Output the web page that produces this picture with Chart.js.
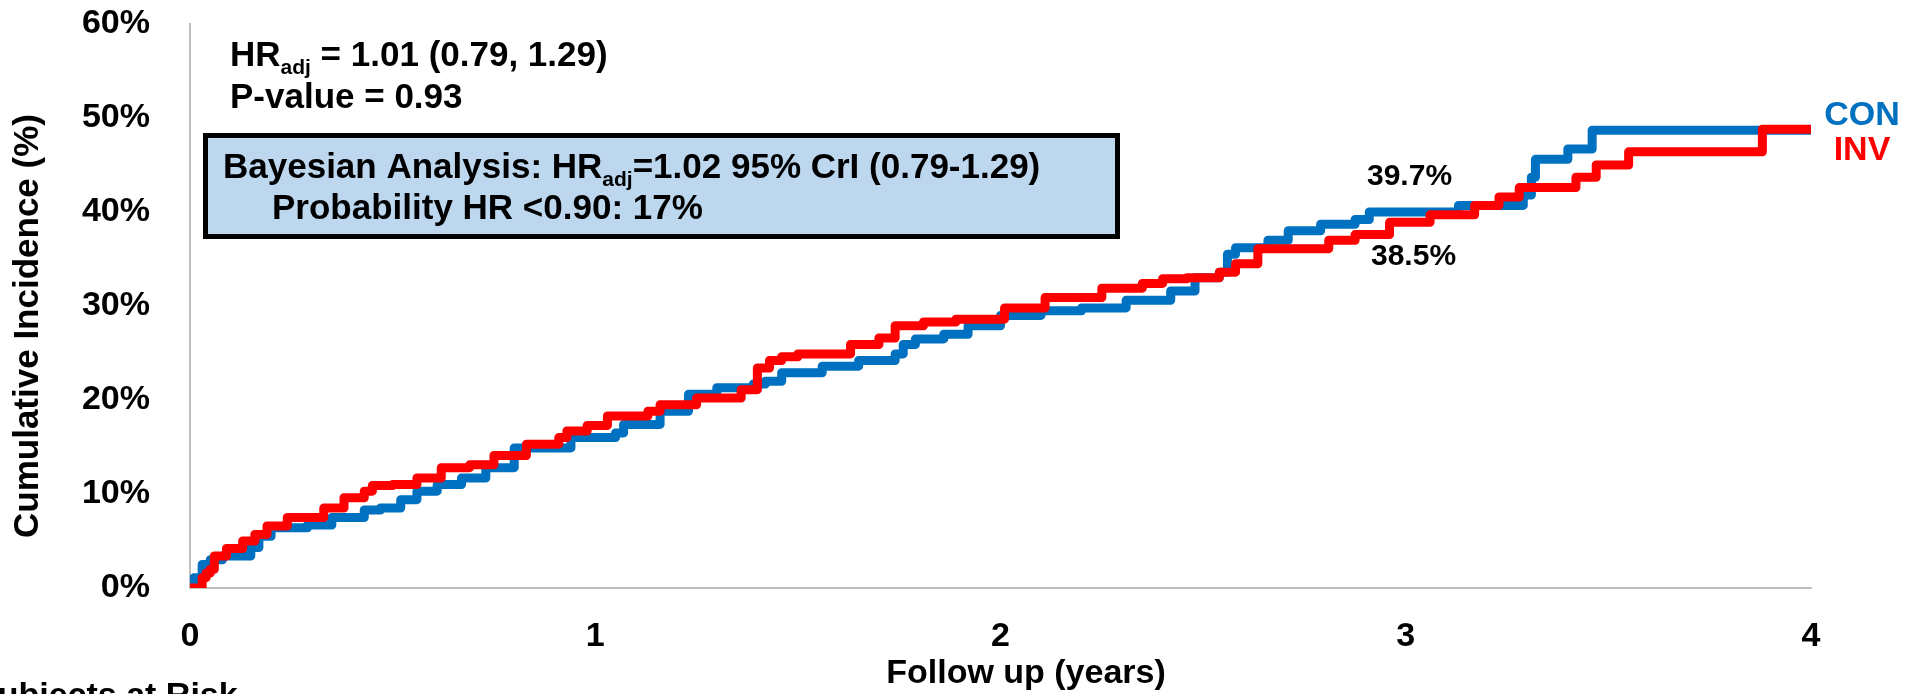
<!DOCTYPE html>
<html>
<head>
<meta charset="utf-8">
<script src="https://cdn.jsdelivr.net/npm/chart.js@4"></script>
<style>
  html, body { margin: 0; padding: 0; background: #fff; overflow: hidden; }
  #wrap { width: 1919px; height: 694px; position: relative; }
</style>
</head>
<body>
<div id="wrap"><canvas id="kmChart"></canvas></div>
<script>
// CON (blue) step curve: time in years, cumulative incidence in %
const conTimes  = [0, 0.01, 0.03, 0.05, 0.08, 0.15, 0.17, 0.20, 0.29, 0.35, 0.43, 0.47, 0.52, 0.56, 0.61, 0.67, 0.73, 0.80, 0.94, 1.05, 1.07, 1.16, 1.23, 1.30, 1.39, 1.42, 1.46, 1.56, 1.65, 1.74, 1.76, 1.79, 1.86, 1.92, 2.00, 2.10, 2.20, 2.31, 2.42, 2.48, 2.54, 2.56, 2.58, 2.66, 2.71, 2.79, 2.875, 2.91, 3.13, 3.29, 3.31, 3.32, 3.40, 3.46, 4.00];
const conValues = [0, 1.1, 2.5, 3.0, 3.4, 4.3, 5.5, 6.4, 6.7, 7.5, 8.3, 8.5, 9.4, 10.3, 11.0, 11.7, 12.8, 14.9, 16.0, 16.5, 17.4, 18.8, 20.6, 21.3, 21.7, 22.0, 22.9, 23.6, 24.2, 24.9, 25.9, 26.5, 27.0, 27.9, 29.0, 29.5, 29.8, 30.6, 31.6, 33.0, 33.6, 35.5, 36.2, 37.0, 38.0, 38.7, 39.2, 40.0, 40.7, 41.8, 43.7, 45.6, 46.7, 48.7, 48.7];

// INV (red) step curve
const invTimes  = [0, 0.03, 0.04, 0.05, 0.06, 0.09, 0.13, 0.16, 0.19, 0.24, 0.33, 0.38, 0.43, 0.45, 0.50, 0.56, 0.62, 0.69, 0.75, 0.83, 0.91, 0.93, 0.98, 1.03, 1.13, 1.16, 1.25, 1.36, 1.40, 1.43, 1.46, 1.50, 1.63, 1.70, 1.74, 1.81, 1.89, 2.01, 2.11, 2.25, 2.35, 2.40, 2.46, 2.54, 2.58, 2.635, 2.81, 2.875, 2.96, 3.06, 3.17, 3.23, 3.28, 3.42, 3.47, 3.55, 3.88, 4.00];
const invValues = [0, 1.1, 1.6, 2.0, 3.4, 4.2, 5.0, 5.7, 6.6, 7.5, 8.5, 9.6, 10.3, 10.9, 11.0, 11.7, 12.8, 13.1, 14.1, 15.3, 16.0, 16.7, 17.3, 18.3, 18.8, 19.5, 20.2, 21.1, 23.4, 24.2, 24.6, 24.9, 25.9, 26.6, 27.9, 28.3, 28.6, 29.8, 30.9, 31.9, 32.4, 32.9, 33.0, 33.6, 34.5, 36.1, 37.0, 37.6, 38.9, 39.7, 40.7, 41.6, 42.6, 43.7, 45.0, 46.4, 48.8, 48.8];

const seriesNames = ['CON', 'INV'];
const yearTicks = [0, 1, 2, 3, 4];
const percentTicks = [0, 10, 20, 30, 40, 50, 60];

const FONT = '"Liberation Sans", Arial, sans-serif';
const BLUE = '#0070C0';
const RED = '#FF0000';

function toPoints(xs, ys) {
    return xs.map((x, i) => ({ x: x, y: ys[i] }));
}

// draw a line of text made of runs (for the "adj" subscript)
function drawRuns(ctx, x, y, runs) {
    runs.forEach(r => {
        ctx.font = 'bold ' + r.size + 'px ' + FONT;
        ctx.fillText(r.text, x, y + (r.dy || 0));
        x += ctx.measureText(r.text).width;
    });
}

const annotations = {
    id: 'annotations',
    afterDraw(chart) {
        const ctx = chart.ctx;
        ctx.save();
        ctx.fillStyle = '#000';
        ctx.textBaseline = 'alphabetic';
        ctx.textAlign = 'left';

        drawRuns(ctx, 230, 66, [
            { text: 'HR', size: 35 },
            { text: 'adj', size: 21, dy: 8 },
            { text: ' = 1.01 (0.79, 1.29)', size: 35 }
        ]);
        drawRuns(ctx, 230, 108, [{ text: 'P-value = 0.93', size: 35 }]);

        // Bayesian box
        ctx.fillStyle = '#BDD7EE';
        ctx.fillRect(205, 135, 913, 101);
        ctx.lineWidth = 5;
        ctx.strokeStyle = '#000';
        ctx.strokeRect(205.5, 135.5, 912, 101);
        ctx.fillStyle = '#000';
        drawRuns(ctx, 223, 178, [
            { text: 'Bayesian Analysis: HR', size: 35 },
            { text: 'adj', size: 21, dy: 8 },
            { text: '=1.02 95% CrI (0.79-1.29)', size: 35 }
        ]);
        drawRuns(ctx, 272, 219, [{ text: 'Probability HR <0.90: 17%', size: 35 }]);

        // 3-year rates
        drawRuns(ctx, 1367, 185, [{ text: '39.7%', size: 30 }]);
        drawRuns(ctx, 1371, 265, [{ text: '38.5%', size: 30 }]);

        // series labels
        ctx.textAlign = 'center';
        ctx.font = 'bold 34px ' + FONT;
        ctx.fillStyle = BLUE;
        ctx.fillText(seriesNames[0], 1862, 125);
        ctx.fillStyle = RED;
        ctx.fillText(seriesNames[1], 1862, 160);

        // axis titles
        ctx.fillStyle = '#000';
        ctx.textBaseline = 'middle';
        ctx.fillText('Follow up (years)', 1026, 674);
        ctx.save();
        ctx.translate(28, 326);
        ctx.rotate(-Math.PI / 2);
        ctx.font = 'bold 35px ' + FONT;
        ctx.fillText('Cumulative Incidence (%)', 0, 0);
        ctx.restore();

        ctx.textAlign = 'left';
        ctx.textBaseline = 'alphabetic';
        ctx.fillText('Subjects at Risk', -25, 706);
        ctx.restore();
    }
};

const ctx = document.getElementById('kmChart').getContext('2d');

const data = {
    datasets: [{
        label: seriesNames[1],
        data: toPoints(invTimes, invValues),
        borderColor: RED,
        borderWidth: 9,
        stepped: 'before',
        pointRadius: 0,
        borderJoinStyle: 'round',
        borderCapStyle: 'round',
        fill: false
    }, {
        label: seriesNames[0],
        data: toPoints(conTimes, conValues),
        borderColor: BLUE,
        borderWidth: 9,
        stepped: 'before',
        pointRadius: 0,
        borderJoinStyle: 'round',
        borderCapStyle: 'round',
        fill: false
    }]
};

const config = {
    type: 'line',
    data: data,
    options: {
        responsive: true,
        maintainAspectRatio: false,
        animation: false,
        devicePixelRatio: 1,
        layout: { padding: { left: 0, top: 24, right: 108, bottom: 0 } },
        plugins: {
            legend: { display: false },
            tooltip: { enabled: false }
        },
        scales: {
            x: {
                type: 'linear',
                min: yearTicks[0],
                max: yearTicks[yearTicks.length - 1],
                afterFit(scale) {
                    scale.height = 106;
                    scale.paddingLeft = 0;
                    scale.paddingRight = 0;
                },
                afterBuildTicks(scale) { scale.ticks = yearTicks.map(v => ({ value: v })); },
                grid: { display: false },
                border: { display: true, color: '#BFBFBF', width: 2 },
                ticks: {
                    padding: 20,
                    color: '#000',
                    font: { family: FONT, size: 34, weight: 'bold' }
                }
            },
            y: {
                min: percentTicks[0],
                max: percentTicks[percentTicks.length - 1],
                afterFit(scale) {
                    scale.width = 190;
                    scale.paddingTop = 0;
                    scale.paddingBottom = 0;
                },
                afterBuildTicks(scale) { scale.ticks = percentTicks.map(v => ({ value: v })); },
                grid: { display: false },
                border: { display: true, color: '#BFBFBF', width: 2 },
                ticks: {
                    padding: 32,
                    color: '#000',
                    font: { family: FONT, size: 34, weight: 'bold' },
                    callback: v => v + '%'
                }
            }
        }
    },
    plugins: [annotations]
};

const kmChart = new Chart(ctx, config);
</script>
</body>
</html>
